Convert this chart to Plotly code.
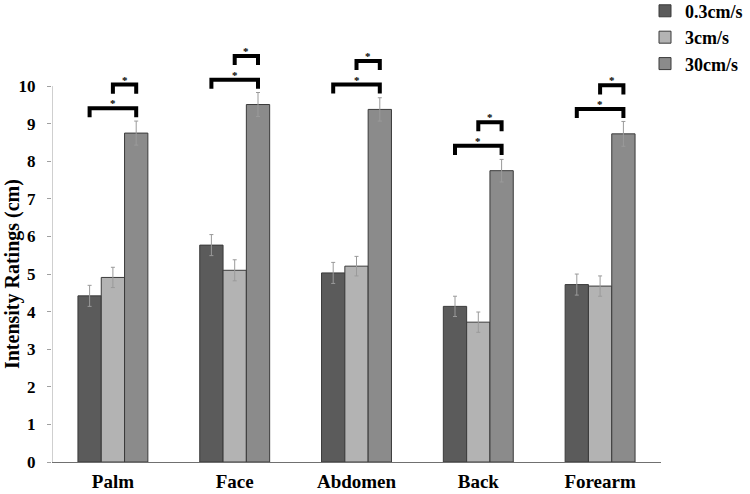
import plotly.graph_objects as go

categories = ["Palm", "Face", "Abdomen", "Back", "Forearm"]
series_names = ["0.3cm/s", "3cm/s", "30cm/s"]
v_slow = [4.42, 5.77, 5.03, 4.14, 4.72]
v_medium = [4.91, 5.10, 5.21, 3.72, 4.68]
v_fast = [8.75, 9.51, 9.38, 7.75, 8.73]
e_slow = [0.28, 0.28, 0.28, 0.27, 0.28]
e_medium = [0.27, 0.28, 0.26, 0.27, 0.27]
e_fast = [0.32, 0.32, 0.31, 0.30, 0.33]
y_ticks = list(range(0, 11))

colors = ["#5b5b5b", "#b3b3b3", "#8b8b8b"]
FONT = "Liberation Serif"
bargap = 0.426
bw = (1 - bargap) / 3

xs = list(range(len(categories)))
fig = go.Figure()
for name, vals, errs, col in zip(series_names, [v_slow, v_medium, v_fast],
                                 [e_slow, e_medium, e_fast], colors):
    fig.add_trace(go.Bar(
        x=xs, y=vals, name=name,
        marker=dict(color=col, line=dict(color="#3a3a3a", width=1)),
        error_y=dict(type="data", array=errs, visible=True,
                     color="#9a9a9a", thickness=1, width=2),
    ))

shapes = []
annotations = []
# y axis line (0..10)
shapes.append(dict(type="line", xref="x", yref="y", x0=-0.5, x1=-0.5, y0=0, y1=10,
                   line=dict(color="#a0a0a0", width=1)))

leg = 0.24
for i, top in enumerate(v_fast):
    xd = i - bw
    xl = i
    xf = i + bw
    for x0, yb in [(xd, top + 0.66), (xl, top + 1.29)]:
        shapes.append(dict(
            type="path", xref="x", yref="y",
            path=f"M {x0},{yb - leg} L {x0},{yb} L {xf},{yb} L {xf},{yb - leg}",
            line=dict(color="black", width=4),
        ))
        annotations.append(dict(
            x=(x0 + xf) / 2, y=yb, xref="x", yref="y", text="*", showarrow=False,
            yanchor="middle", yshift=5,
            font=dict(family=FONT, size=11, color="black", weight="bold"),
        ))

annotations.append(dict(
    x=-0.5, y=5, xref="x", yref="y", xshift=-40, text="Intensity Ratings (cm)",
    textangle=-90, showarrow=False,
    font=dict(family=FONT, size=20, color="black", weight="bold"),
))

fig.update_layout(
    width=750, height=494,
    margin=dict(l=52, r=89, t=41, b=32, autoexpand=False),
    paper_bgcolor="white", plot_bgcolor="white",
    barmode="group", bargap=bargap, bargroupgap=0,
    shapes=shapes, annotations=annotations,
    legend=dict(
        xref="container", yref="paper", x=0.86, y=1.115,
        xanchor="left", yanchor="top",
        font=dict(family=FONT, size=18, color="black", weight="bold"),
        bgcolor="rgba(0,0,0,0)", tracegroupgap=0,
    ),
    xaxis=dict(
        range=[-0.5, len(categories) - 0.5], automargin=False,
        tickvals=xs, ticktext=categories,
        showline=True, linecolor="#707070", linewidth=1,
        ticks="outside", ticklen=2, tickcolor="rgba(0,0,0,0)",
        showgrid=False, zeroline=False,
        tickfont=dict(family=FONT, size=19, color="black", weight="bold"),
    ),
    yaxis=dict(
        range=[0, 11.2], automargin=False,
        tickvals=y_ticks, ticktext=[str(t) for t in y_ticks],
        showline=False, showgrid=False, zeroline=False,
        ticks="outside", ticklen=4, tickcolor="#a0a0a0", tickwidth=1,
        ticklabelstandoff=8,
        tickfont=dict(family=FONT, size=17, color="black", weight="bold"),
    ),
)

fig.write_html(
    "out.html",
    config={"displayModeBar": False},
    post_script="document.body.style.margin='0px';document.body.style.padding='0px';",
)
